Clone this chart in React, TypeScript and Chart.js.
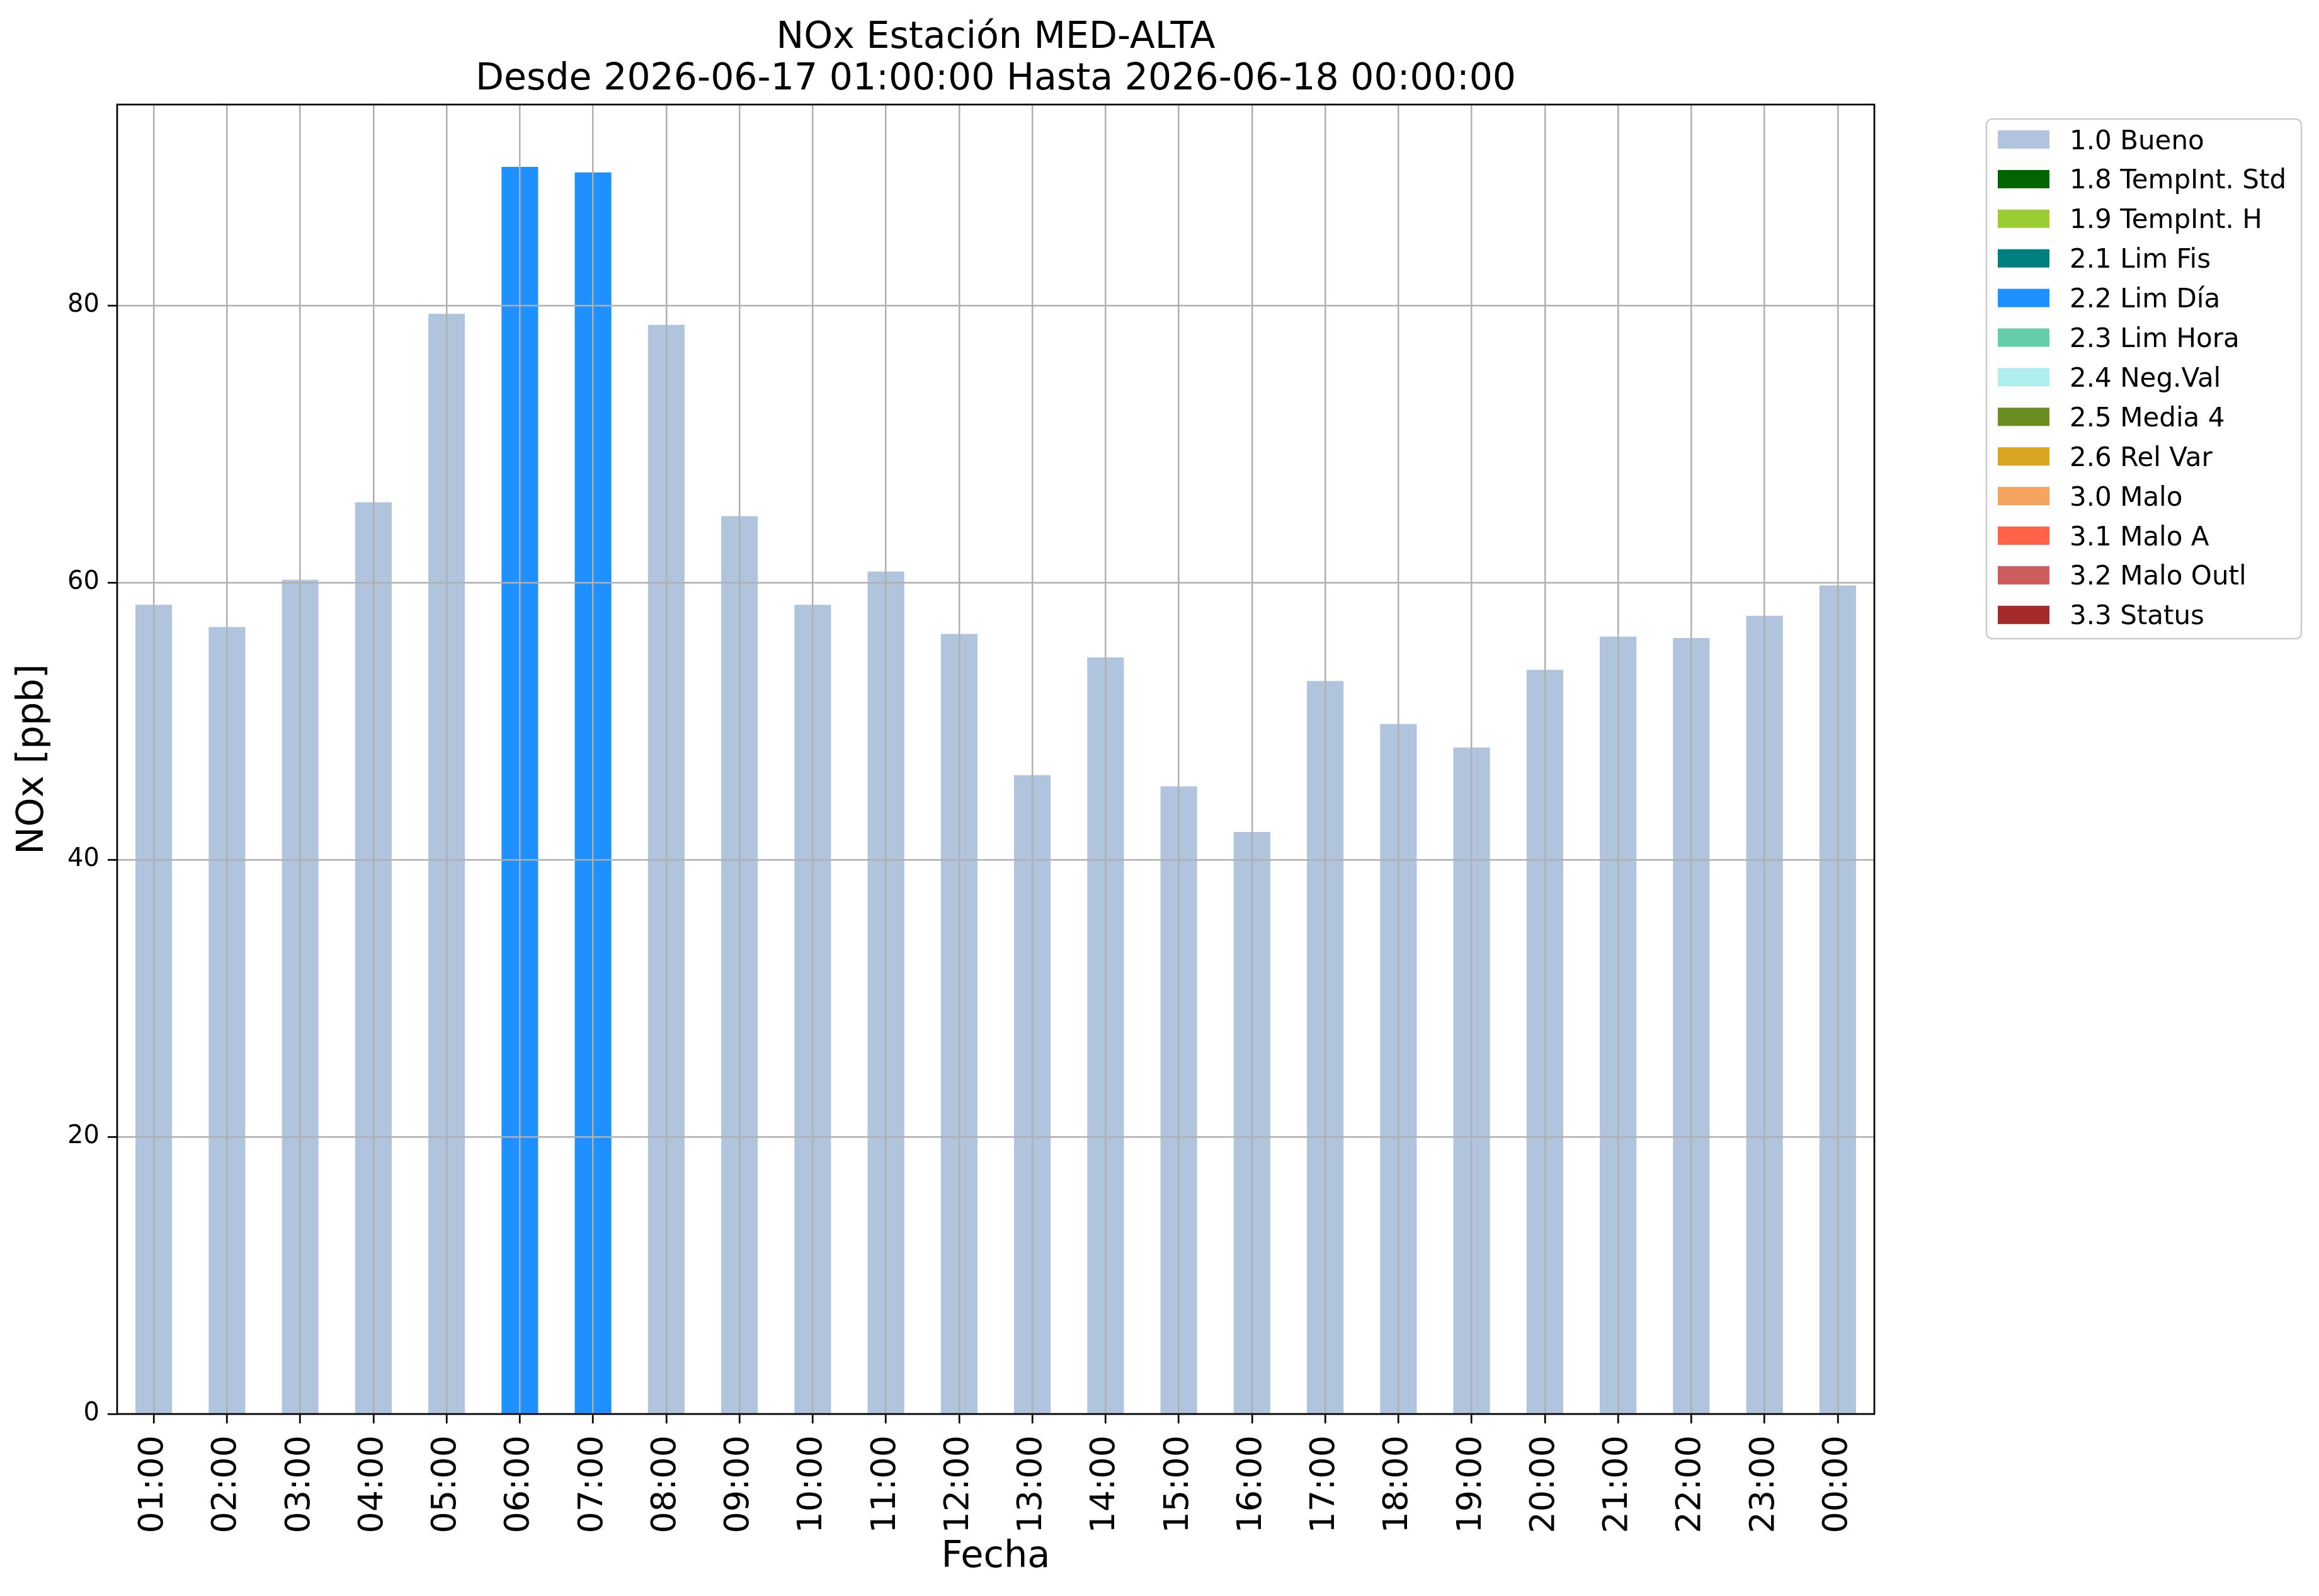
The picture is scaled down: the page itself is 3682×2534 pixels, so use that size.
import React, { useEffect, useRef } from 'react';
import { Chart, registerables } from 'chart.js';

Chart.register(...registerables);

// ---- Data ----
const hours = [
  '01:00', '02:00', '03:00', '04:00', '05:00', '06:00', '07:00', '08:00',
  '09:00', '10:00', '11:00', '12:00', '13:00', '14:00', '15:00', '16:00',
  '17:00', '18:00', '19:00', '20:00', '21:00', '22:00', '23:00', '00:00',
];
const noxValues = [
  58.4, 56.8, 60.2, 65.8, 79.4, 90.0, 89.6, 78.6,
  64.8, 58.4, 60.8, 56.3, 46.1, 54.6, 45.3, 42.0,
  52.9, 49.8, 48.1, 53.7, 56.1, 56.0, 57.6, 59.8,
];
const qualityFlags = [
  '1.0', '1.0', '1.0', '1.0', '1.0', '2.2', '2.2', '1.0',
  '1.0', '1.0', '1.0', '1.0', '1.0', '1.0', '1.0', '1.0',
  '1.0', '1.0', '1.0', '1.0', '1.0', '1.0', '1.0', '1.0',
];
const qualityCodes = ['1.0', '1.8', '1.9', '2.1', '2.2', '2.3', '2.4', '2.5', '2.6', '3.0', '3.1', '3.2', '3.3'];
const qualityNames = [
  'Bueno', 'TempInt. Std', 'TempInt. H', 'Lim Fis', 'Lim Día', 'Lim Hora',
  'Neg.Val', 'Media 4', 'Rel Var', 'Malo', 'Malo A', 'Malo Outl', 'Status',
];
const qualityColors = [
  '#B0C4DE', '#006400', '#9ACD32', '#008080', '#1E90FF', '#66CDAA',
  '#AFEEEE', '#6B8E23', '#DAA520', '#F4A460', '#FF6347', '#CD5C5C', '#A52A2A',
];
const yTicks = [0, 20, 40, 60, 80];
const yMax = 94.5;
const titleLines = ['NOx Estación MED-ALTA', 'Desde 2026-06-17 01:00:00 Hasta 2026-06-18 00:00:00'];
const xTitle = 'Fecha';
const yTitle = 'NOx [ppb]';

const FONT = "'DejaVu Sans', 'Liberation Sans', sans-serif";

const decorPlugin = {
  id: 'mplDecor',
  afterDraw(chart: any) {
    const { ctx, chartArea } = chart;
    const { left, right, top, bottom } = chartArea;
    ctx.save();
    // Frame (spines)
    ctx.strokeStyle = '#000';
    ctx.lineWidth = 2.7;
    ctx.strokeRect(left, top, right - left, bottom - top);

    // Title
    ctx.fillStyle = '#000';
    ctx.font = `58.5px ${FONT}`;
    ctx.textAlign = 'center';
    ctx.textBaseline = 'alphabetic';
    const cx = (left + right) / 2;
    ctx.fillText(titleLines[0], cx, top - 90);
    ctx.fillText(titleLines[1], cx, top - 24.3);

    // Legend
    const lx = right + 178;
    const ly = top + 23;
    const lw = 500;
    const lh = 825;
    const r = 9;
    ctx.beginPath();
    ctx.moveTo(lx + r, ly);
    ctx.lineTo(lx + lw - r, ly);
    ctx.arcTo(lx + lw, ly, lx + lw, ly + r, r);
    ctx.lineTo(lx + lw, ly + lh - r);
    ctx.arcTo(lx + lw, ly + lh, lx + lw - r, ly + lh, r);
    ctx.lineTo(lx + r, ly + lh);
    ctx.arcTo(lx, ly + lh, lx, ly + lh - r, r);
    ctx.lineTo(lx, ly + r);
    ctx.arcTo(lx, ly, lx + r, ly, r);
    ctx.closePath();
    ctx.fillStyle = '#ffffff';
    ctx.fill();
    ctx.strokeStyle = '#cccccc';
    ctx.lineWidth = 2.5;
    ctx.stroke();

    ctx.font = `42px ${FONT}`;
    ctx.textAlign = 'left';
    ctx.textBaseline = 'alphabetic';
    chart.data.datasets.forEach((ds: any, i: number) => {
      const sy = ly + 18 + i * 62.9;
      ctx.fillStyle = ds.backgroundColor;
      ctx.fillRect(lx + 18, sy, 82, 29);
      ctx.fillStyle = '#000';
      ctx.fillText(ds.label, right + 310, sy + 29.5);
    });
    ctx.restore();
  },
};

export default function App() {
  const canvasRef = useRef<HTMLCanvasElement | null>(null);

  useEffect(() => {
    document.body.style.margin = '0';
    document.body.style.overflow = 'hidden';
    const canvas = canvasRef.current;
    if (!canvas) return;

    const datasets = qualityCodes.map((code, i) => ({
      label: `${code} ${qualityNames[i]}`,
      data: noxValues.map((v, h) => (qualityFlags[h] === code ? v : null)),
      backgroundColor: qualityColors[i],
      borderWidth: 0,
      barPercentage: 0.5,
      categoryPercentage: 1.0,
    }));

    const gridCommon = {
      z: 1,
      offset: false,
      color: '#b0b0b0',
      lineWidth: 2.5,
      drawTicks: true,
      tickColor: '#000000',
      tickWidth: 2.7,
      tickLength: 15,
    };

    const chart = new Chart(canvas, {
      type: 'bar',
      data: { labels: hours, datasets },
      options: {
        animation: false,
        responsive: false,
        maintainAspectRatio: false,
        events: [],
        layout: { padding: { top: 166, right: 706, left: 0, bottom: 0 } },
        plugins: {
          legend: { display: false },
          title: { display: false },
          tooltip: { enabled: false },
        },
        scales: {
          x: {
            stacked: true,
            grid: { ...gridCommon },
            border: { display: false },
            ticks: {
              autoSkip: false,
              minRotation: 90,
              maxRotation: 90,
              padding: 19,
              color: '#000',
              font: { family: FONT, size: 54 },
            },
            title: {
              display: true,
              text: xTitle,
              color: '#000',
              font: { family: FONT, size: 59 },
              padding: { top: 0, bottom: 26 },
            },
            afterFit: (s: any) => {
              s.height = 289;
            },
          },
          y: {
            stacked: true,
            min: 0,
            max: yMax,
            afterBuildTicks: (s: any) => {
              s.ticks = yTicks.map((v) => ({ value: v }));
            },
            grid: { ...gridCommon },
            border: { display: false },
            ticks: {
              padding: 13,
              color: '#000',
              font: { family: FONT, size: 40 },
            },
            title: {
              display: true,
              text: yTitle,
              color: '#000',
              font: { family: FONT, size: 59 },
              padding: { top: 17.6, bottom: 0 },
            },
            afterFit: (s: any) => {
              s.width = 186;
            },
          },
        },
      } as any,
      plugins: [decorPlugin],
    });

    return () => {
      chart.destroy();
    };
  }, []);

  return (
    <div style={{ width: 3682, height: 2534, background: '#fff' }}>
      <canvas ref={canvasRef} width={3682} height={2534} style={{ display: 'block' }} />
    </div>
  );
}
